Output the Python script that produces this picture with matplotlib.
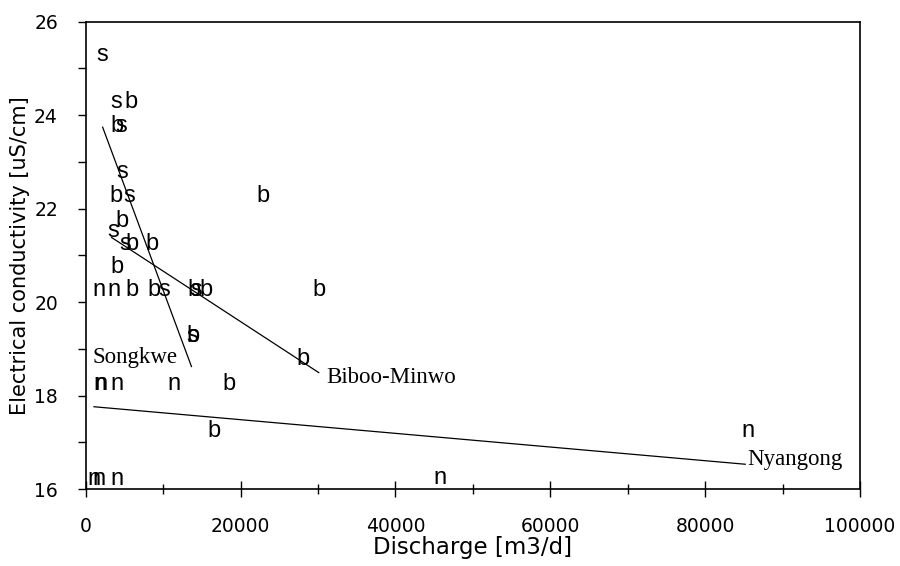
import matplotlib
matplotlib.use("Agg")
import matplotlib.pyplot as plt
from matplotlib.ticker import MultipleLocator
from matplotlib.transforms import offset_copy

# Songkwe river samples (letter "s")
s_discharge = [2165, 3905, 4640, 4740, 5600, 3560, 5065, 10120, 14300, 13700]
s_conduct = [25.28, 24.29, 23.76, 22.79, 22.28, 21.52, 21.24, 20.26, 20.26, 19.28]

# Biboo-Minwo river samples (letter "b")
b_discharge = [5900, 3995, 3880, 22890, 4740, 5930, 8500, 4100, 6030, 8830,
               13950, 15480, 30190, 13800, 28040, 18490, 16560]
b_conduct = [24.29, 23.76, 22.28, 22.28, 21.73, 21.24, 21.24, 20.76, 20.26, 20.26,
             20.26, 20.26, 20.26, 19.28, 18.78, 18.26, 17.24]

# Nyangong river samples (letter "n")
n_discharge = [1690, 3670, 1800, 1950, 4100, 11400, 1070, 1700, 3995, 45760, 85500]
n_conduct = [20.26, 20.26, 18.26, 18.26, 18.26, 18.26, 16.21, 16.21, 16.21, 16.23, 17.24]

# Fitted trend lines (end points)
songkwe_fit_x = [2190, 13660]
songkwe_fit_y = [23.74, 18.62]
biboo_fit_x = [3350, 30100]
biboo_fit_y = [21.38, 18.49]
nyangong_fit_x = [1070, 85180]
nyangong_fit_y = [17.76, 16.53]

# River name labels (anchor = left end of baseline)
river_names = ["Songkwe", "Biboo-Minwo", "Nyangong"]
name_x = [900, 31060, 85390]
name_y = [18.70, 18.26, 16.51]

fig = plt.figure(figsize=(9, 5.66), dpi=100)
ax = fig.add_axes([0.0952, 0.136, 0.8604, 0.826])

ax.set_xlim(0, 100000)
ax.set_ylim(16, 26)

marker_size = 17
# shift the letters down so that their x-height middle sits on the data point
letter_tr = offset_copy(ax.transData, fig=fig, x=0, y=-0.26 * marker_size, units="points")
for xs, ys, ch in ((s_discharge, s_conduct, "s"),
                   (b_discharge, b_conduct, "b"),
                   (n_discharge, n_conduct, "n")):
    for xv, yv in zip(xs, ys):
        ax.text(xv, yv, ch, transform=letter_tr, ha="center", va="baseline",
                fontsize=marker_size, family="Liberation Sans", color="black")

for fx, fy in ((songkwe_fit_x, songkwe_fit_y),
               (biboo_fit_x, biboo_fit_y),
               (nyangong_fit_x, nyangong_fit_y)):
    ax.plot(fx, fy, color="black", linewidth=0.9)

for name, xv, yv in zip(river_names, name_x, name_y):
    ax.text(xv, yv, name, ha="left", va="baseline", fontsize=16.5,
            family="Liberation Serif", color="black")

ax.xaxis.set_major_locator(MultipleLocator(20000))
ax.xaxis.set_minor_locator(MultipleLocator(10000))
ax.yaxis.set_major_locator(MultipleLocator(2))
ax.yaxis.set_minor_locator(MultipleLocator(1))

ax.tick_params(axis="x", which="major", direction="inout", length=12, width=1,
               pad=14, labelsize=13.5)
ax.tick_params(axis="x", which="minor", direction="inout", length=7, width=1)
ax.tick_params(axis="y", which="major", direction="out", length=6, width=1,
               pad=14, labelsize=13.5)
ax.tick_params(axis="y", which="minor", direction="out", length=6, width=1)
for lbl in ax.get_xticklabels() + ax.get_yticklabels():
    lbl.set_family("DejaVu Sans")

for sp in ax.spines.values():
    sp.set_linewidth(1.2)
    sp.set_color("black")

ax.set_xlabel("Discharge [m3/d]", fontsize=16.5, family="DejaVu Sans", labelpad=0)
ax.set_ylabel("Electrical conductivity [uS/cm]", fontsize=15,
              family="DejaVu Sans", labelpad=3)

fig.savefig("out.png", dpi=100)
